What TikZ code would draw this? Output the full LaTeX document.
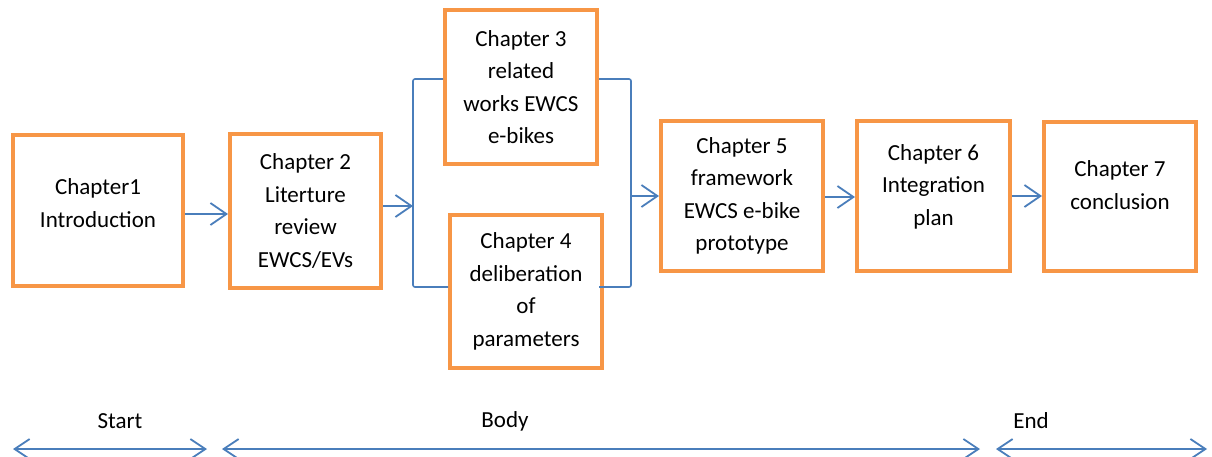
\documentclass[tikz,border=0pt]{standalone}
\usepackage{fontspec}
\setmainfont{Carlito}
\usetikzlibrary{arrows.meta,calc}
\definecolor{boxorange}{RGB}{247,150,70}
\definecolor{linkblue}{RGB}{74,126,187}
\tikzset{
  chapbox/.style={draw=boxorange, line width=4pt, fill=white, align=center, inner sep=0pt,
    font=\fontsize{23}{32.5}\selectfont},
  arr/.style={draw=linkblue, line width=1.8pt, -{Straight Barb[length=16pt,width=22pt,line width=1.8pt]}},
  dblarr/.style={draw=linkblue, line width=1.8pt, {Straight Barb[length=15pt,width=20pt,line width=1.8pt]}-{Straight Barb[length=15pt,width=20pt,line width=1.8pt]}},
  brk/.style={draw=linkblue, line width=1.6pt, rounded corners=2pt},
  lbl/.style={font=\fontsize{23}{28}\selectfont, inner sep=0pt}
}
\begin{document}
\begin{tikzpicture}[x=1pt,y=-1pt]
\useasboundingbox[fill=white] (0,0) rectangle (1212,456);
% boxes
\node[chapbox, minimum width=170pt, minimum height=151pt] (c1) at (98,210.5) {Chapter1\\Introduction\\[-18pt]};
\node[chapbox, minimum width=151pt, minimum height=154pt] (c2) at (305.5,211) {Chapter 2\\Literture\\review\\EWCS/EVs};
\node[chapbox, minimum width=152pt, minimum height=154pt] (c3) at (521,87) {Chapter 3\\related\\works EWCS\\e-bikes};
\node[chapbox, minimum width=152pt, minimum height=153pt] (c4) at (526,291.5) {Chapter 4\\deliberation\\of\\parameters};
\node[chapbox, minimum width=162pt, minimum height=150pt] (c5) at (742,196) {Chapter 5\\framework\\EWCS e-bike\\prototype};
\node[chapbox, minimum width=153pt, minimum height=150pt] (c6) at (933.5,196) {Chapter 6\\Integration\\plan\\[-10pt]};
\node[chapbox, minimum width=152pt, minimum height=149pt] (c7) at (1120,196.5) {Chapter 7\\conclusion\\[-10pt]};
% brackets
\coordinate (lt) at (413,79);
\coordinate (lbm) at (413,206);
\coordinate (lb) at (413,287);
\coordinate (rt) at (631,79);
\coordinate (rbm) at (631,196);
\coordinate (rb) at (631,287);
\draw[brk] (c3.west |- lt) -- (lt) -- (lb) -- (c4.west |- lb);
\draw[brk] (c3.east |- rt) -- (rt) -- (rb) -- (c3.east |- rb);
% arrows
\coordinate (a12) at (0,214);
\draw[arr] (c1.east |- a12) -- (c2.west |- a12);
\draw[arr] (c2.east |- lbm) -- (lbm);
\draw[arr] (rbm) -- (c5.west |- rbm);
\coordinate (a56) at (0,197);
\draw[arr] (c5.east |- a56) -- (c6.west |- a56);
\coordinate (a67) at (0,196);
\draw[arr] (c6.east |- a67) -- (c7.west |- a67);
% bottom
\coordinate (s1) at (13,449);
\coordinate (s2) at (207,449);
\coordinate (b1) at (222,449);
\coordinate (b2) at (980,449);
\coordinate (e1) at (996,449);
\coordinate (e2) at (1207,449);
\draw[dblarr] (s1) -- (s2);
\draw[dblarr] (b1) -- (b2);
\draw[dblarr] (e1) -- (e2);
\node[lbl] (ls) at (120,421) {Start};
\node[lbl] (lbody) at (505,421) {Body};
\node[lbl] (le) at (1031,421) {End};
\end{tikzpicture}
\end{document}
